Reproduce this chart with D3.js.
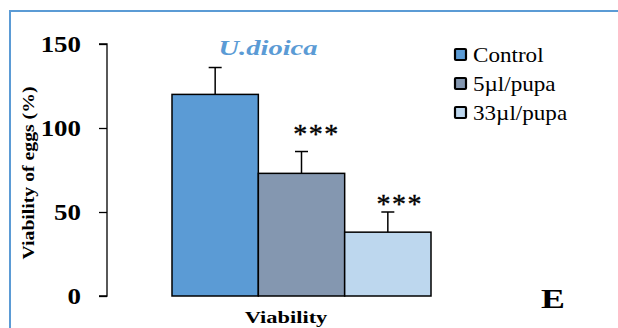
<!DOCTYPE html>
<html>
<head>
<meta charset="utf-8">
<script src="https://cdn.jsdelivr.net/npm/d3@7/dist/d3.min.js"></script>
<style>
  html, body { margin: 0; padding: 0; background: #fff; }
  svg { display: block; }
</style>
</head>
<body>
<svg id="chart" width="618" height="328"></svg>
<script>
// Egg viability under U. dioica treatment
const groups = ["Control", "5µl/pupa", "33µl/pupa"];
const means = [120, 73, 38];
const errors = [16, 13, 12];
const signif = ["", "***", "***"];
const colors = ["#5b9bd5", "#8497b0", "#bdd7ee"];
const yTicks = [0, 50, 100, 150];
const category = ["Viability"];

// gap (px) between whisker cap and the star label baseline, and x nudge
const starGap = { "5µl/pupa": -9, "33µl/pupa": 1 };
const starShift = { "5µl/pupa": 15, "33µl/pupa": 12 };

const svg = d3.select("#chart");
const W = 618, H = 328;
const serif = "'Liberation Serif', 'Times New Roman', serif";

// widen a text element horizontally by a factor (keeps it as real text)
function widen(sel, f) {
  sel.each(function() {
    const len = this.getComputedTextLength();
    d3.select(this).attr("textLength", len * f).attr("lengthAdjust", "spacingAndGlyphs");
  });
}

// frame around the panel
svg.append("rect")
  .attr("x", 10).attr("y", 11)
  .attr("width", W + 20).attr("height", H + 20)
  .attr("fill", "none")
  .attr("stroke", "#5b9bd5")
  .attr("stroke-width", 2);

const y = d3.scaleLinear().domain([0, 150]).range([296, 44]);
const x0 = d3.scaleBand().domain(category).range([172, 431]).paddingInner(0).paddingOuter(0);
const x1 = d3.scaleBand().domain(groups).range([0, x0.bandwidth()]).padding(0);

// y axis
const yAxis = d3.axisLeft(y).tickValues(yTicks).tickSize(8).tickPadding(18).tickFormat(d3.format("d"));
const yg = svg.append("g").attr("transform", "translate(107,0)").call(yAxis);
yg.select(".domain").attr("stroke", "#000").attr("stroke-width", 1.3).attr("d", "M-8," + y(150) + "H0V" + y(0) + "H-8");
yg.selectAll(".tick line").attr("stroke", "#000").attr("stroke-width", 1.3);
yg.selectAll(".tick text")
  .attr("font-family", serif).attr("font-weight", "bold")
  .attr("font-size", 23).attr("fill", "#000")
  .call(widen, 1.17);

const g = svg.append("g").attr("transform", "translate(" + x0("Viability") + ",0)");

const data = groups.map((k, i) => ({ k, m: means[i], e: errors[i], s: signif[i], c: colors[i] }));

// error bars (upper whisker)
g.selectAll(".err").data(data).join("g").attr("class", "err")
  .each(function(d) {
    const cx = x1(d.k) + x1.bandwidth() / 2;
    const sel = d3.select(this);
    sel.append("line").attr("x1", cx).attr("x2", cx)
      .attr("y1", y(d.m)).attr("y2", y(d.m + d.e))
      .attr("stroke", "#000").attr("stroke-width", 1.5);
    sel.append("line").attr("x1", cx - 6.5).attr("x2", cx + 6.5)
      .attr("y1", y(d.m + d.e)).attr("y2", y(d.m + d.e))
      .attr("stroke", "#000").attr("stroke-width", 1.5);
  });

// bars
g.selectAll("rect.bar").data(data).join("rect").attr("class", "bar")
  .attr("x", d => x1(d.k))
  .attr("y", d => y(d.m))
  .attr("width", x1.bandwidth())
  .attr("height", d => y(0) - y(d.m))
  .attr("fill", d => d.c)
  .attr("stroke", "#000")
  .attr("stroke-width", 1.5);

// significance stars
g.selectAll("text.sig").data(data.filter(d => d.s)).join("text").attr("class", "sig")
  .attr("x", d => x1(d.k) + x1.bandwidth() / 2 + starShift[d.k])
  .attr("y", d => y(d.m + d.e) + starGap[d.k])
  .attr("text-anchor", "middle")
  .attr("font-family", serif)
  .attr("font-size", 28)
  .attr("letter-spacing", 1.5)
  .attr("fill", "#000")
  .attr("stroke", "#000")
  .attr("stroke-width", 0.4)
  .text(d => d.s);

// title
svg.append("text")
  .attr("x", 268).attr("y", 55)
  .attr("text-anchor", "middle")
  .attr("font-family", serif).attr("font-weight", "bold").attr("font-style", "italic")
  .attr("font-size", 21).attr("fill", "#5b9bd5")
  .text("U.dioica")
  .call(widen, 1.36);

// axis titles
svg.append("text")
  .attr("transform", "translate(34,173) rotate(-90)")
  .attr("text-anchor", "middle")
  .attr("font-family", serif).attr("font-weight", "bold")
  .attr("font-size", 17).attr("fill", "#000")
  .text("Viability of eggs (%)")
  .call(widen, 1.16);

svg.append("text")
  .attr("x", 286).attr("y", 323)
  .attr("text-anchor", "middle")
  .attr("font-family", serif).attr("font-weight", "bold")
  .attr("font-size", 17).attr("fill", "#000")
  .text("Viability")
  .call(widen, 1.32);

// panel letter
svg.append("text")
  .attr("x", 541).attr("y", 308)
  .attr("font-family", serif).attr("font-weight", "bold")
  .attr("font-size", 28).attr("fill", "#000")
  .text("E")
  .call(widen, 1.28);

// legend
const lg = svg.append("g").attr("transform", "translate(455,49)");
const li = lg.selectAll("g").data(data).join("g")
  .attr("transform", (d, i) => "translate(0," + i * 29 + ")");
li.append("rect").attr("x", 0).attr("y", 0).attr("width", 11).attr("height", 11)
  .attr("fill", d => d.c).attr("stroke", "#000").attr("stroke-width", 2.2).attr("rx", 1);
li.append("text").attr("x", 18).attr("y", 13)
  .attr("font-family", serif).attr("font-size", 21).attr("fill", "#000")
  .text(d => d.k)
  .call(widen, 1.1);
</script>
</body>
</html>
